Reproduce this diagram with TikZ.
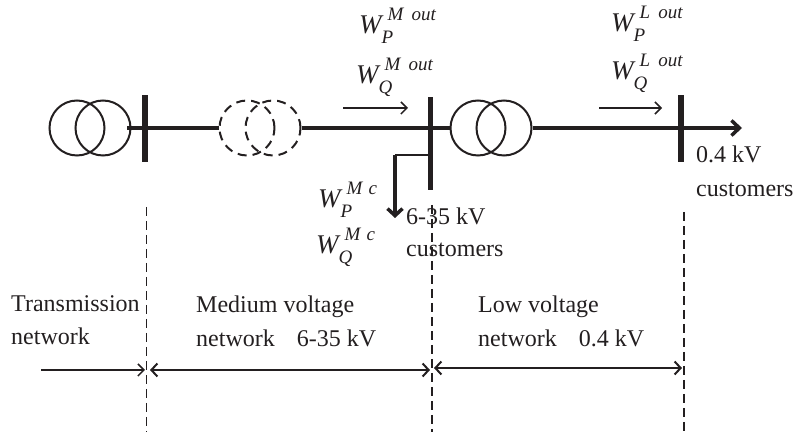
\documentclass[tikz,border=0pt]{standalone}
\usepackage{fontspec}
\setmainfont{Liberation Serif}
\usetikzlibrary{arrows.meta}
\definecolor{ink}{HTML}{231F20}
\tikzstyle{trafo} = [draw=ink, circle, line width=2pt, minimum size=55pt, inner sep=0pt]
\tikzstyle{dashtrafo} = [trafo, dash pattern=on 9pt off 6pt]
\tikzstyle{busbar} = [fill=ink, minimum width=6pt, inner sep=0pt, outer sep=0pt]
\tikzstyle{line} = [draw=ink, line width=4pt]
\tikzstyle{flow} = [draw=ink, line width=1.5pt, -{Straight Barb[length=6pt,width=12pt,line width=1.5pt]}]
\tikzstyle{span} = [draw=ink, line width=2pt, {Straight Barb[length=6pt,width=13pt,line width=2pt]}-{Straight Barb[length=6pt,width=13pt,line width=2pt]}]
\tikzstyle{border} = [draw=ink, line width=1pt, dash pattern=on 9pt off 5pt]
\tikzstyle{caption} = [anchor=base west, inner sep=0pt, text=ink, font=\fontsize{24}{24}\selectfont]
\newcommand{\wlabel}[2]{\fontsize{27}{27}\selectfont\itshape W%
  \rlap{\raisebox{-10pt}{\fontsize{19}{19}\selectfont #1}}%
  \hspace{6pt}\raisebox{13pt}{\fontsize{19}{19}\selectfont #2}}

\begin{document}
\begin{tikzpicture}[x=1pt, y=-1pt]
\useasboundingbox (0,0) rectangle (793,435);
% transformers
\node [trafo] (t1a) at (77,128) {};
\node [trafo] (t1b) at (103,128) {};
\node [dashtrafo] (t2a) at (247,128) {};
\node [dashtrafo] (t2b) at (273,128) {};
\node [trafo] (t3a) at (478,128) {};
\node [trafo] (t3b) at (504,128) {};
% buses
\node [busbar, minimum height=67pt] (bus1) at (145,128.5) {};
\node [busbar, minimum height=93pt, minimum width=5pt] (bus2) at (430,143.5) {};
\node [busbar, minimum height=67pt] (bus3) at (681,128.5) {};
% lines
\coordinate (feed) at (127,128);
\coordinate (load) at (742,128);
\coordinate (tap) at (430,155);
\coordinate (corner) at (395,155);
\coordinate (drop) at (395,218);
\draw [line] (feed) -- (t2a.west);
\draw [line] (t2b.east) -- (t3a.west);
\draw [line, -{Straight Barb[length=8pt,width=15pt,line width=3.5pt]}] (t3b.east) -- (load);
\draw [draw=ink, line width=2pt] (tap) -- (corner);
\draw [line, -{Straight Barb[length=7pt,width=15pt,line width=3.5pt]}] (corner) -- (drop);
% power flows
\coordinate (f1a) at (343,108);
\coordinate (f1b) at (408,108);
\coordinate (f2a) at (599,108);
\coordinate (f2b) at (662,108);
\draw [flow] (f1a) -- (f1b);
\draw [flow] (f2a) -- (f2b);
% energies
\node [caption] (wpm) at (359,34) {\wlabel{P}{M\hspace{8pt}out}};
\node [caption] (wqm) at (356,84) {\wlabel{Q}{M\hspace{8pt}out}};
\node [caption] (wpl) at (611,32) {\wlabel{P}{L\hspace{8pt}out}};
\node [caption] (wql) at (611,80) {\wlabel{Q}{L\hspace{8pt}out}};
\node [caption] (wpc) at (318,208) {\wlabel{P}{M\hspace{6pt}c}};
\node [caption] (wqc) at (316,254) {\wlabel{Q}{M\hspace{6pt}c}};
% customers
\node [caption] (lv1) at (696,163) {0.4 kV};
\node [caption] (lv2) at (696,197) {customers};
\node [caption] (mv1) at (406,225) {6-35 kV};
\node [caption] (mv2) at (406,257) {customers};
% borders
\coordinate (b1a) at (146,207);
\coordinate (b1b) at (146,432);
\coordinate (b2a) at (432,205);
\coordinate (b2b) at (432,432);
\coordinate (b3a) at (684,212);
\coordinate (b3b) at (684,435);
\draw [border] (b1a) -- (b1b);
\draw [border, line width=1.5pt] (b2a) -- (b2b);
\draw [border, line width=1.5pt] (b3a) -- (b3b);
% networks
\node [caption] (tn1) at (11,312) {Transmission};
\node [caption] (tn2) at (11,345) {network};
\node [caption] (mn1) at (196,313) {Medium voltage};
\node [caption] (mn2) at (196,347) {network\hspace{22pt}6-35 kV};
\node [caption] (ln1) at (478,313) {Low voltage};
\node [caption] (ln2) at (478,347) {network\hspace{22pt}0.4 kV};
% spans
\coordinate (s0) at (41,370);
\coordinate (s1) at (145,370);
\coordinate (s2) at (150,370);
\coordinate (s3) at (430,370);
\coordinate (s4) at (434,368);
\coordinate (s5) at (682,368);
\draw [flow, line width=2pt] (s0) -- (s1);
\draw [span] (s2) -- (s3);
\draw [span] (s4) -- (s5);
\end{tikzpicture}
\end{document}
